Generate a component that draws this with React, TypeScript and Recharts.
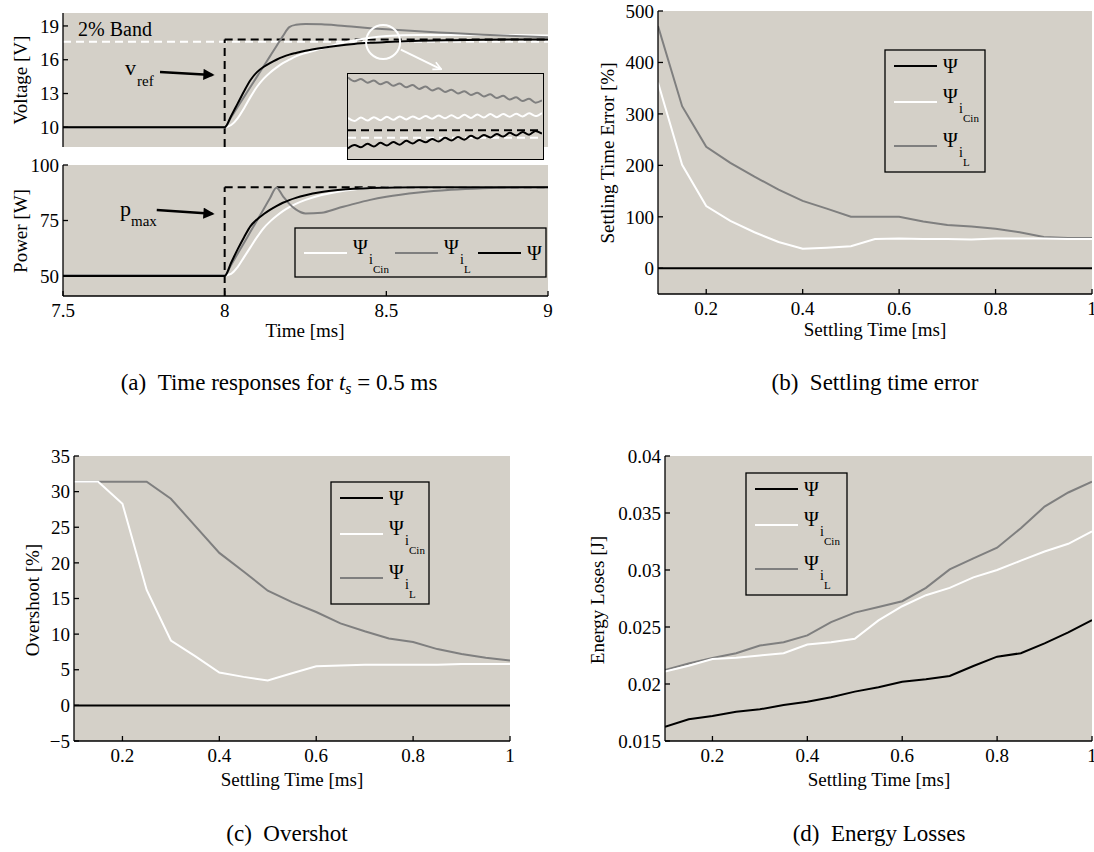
import { CartesianGrid, Line, LineChart, ReferenceDot, ReferenceLine, XAxis, YAxis } from 'recharts';

const FONT = '"Liberation Serif", "Times New Roman", serif';
const BG = '#d4d0c8';
const GRAY = '#7f7f7f';

// time responses (step at 8 ms)
const TIME_A = [7.5, 7.6, 7.7, 7.8, 7.9, 8.0, 8.02, 8.04, 8.06, 8.08, 8.1, 8.12, 8.14, 8.16, 8.18, 8.2, 8.22, 8.25, 8.3, 8.35, 8.4, 8.45, 8.5, 8.6, 8.7, 8.8, 8.9, 9.0];
const V_PSI = [10, 10, 10, 10, 10, 10, 11.0, 12.1, 13.2, 14.2, 14.9, 15.35, 15.7, 16.0, 16.25, 16.45, 16.6, 16.8, 17.05, 17.25, 17.4, 17.5, 17.57, 17.68, 17.74, 17.78, 17.8, 17.8];
const V_CIN = [10, 10, 10, 10, 10, 10, 10.2, 10.8, 11.7, 12.7, 13.6, 14.3, 14.85, 15.3, 15.7, 16.0, 16.3, 16.6, 17.0, 17.4, 17.7, 17.95, 18.1, 18.2, 18.2, 18.2, 18.2, 18.15];
const V_IL = [10, 10, 10, 10, 10, 10, 10.9, 11.8, 12.7, 13.6, 14.5, 15.4, 16.3, 17.2, 18.1, 18.9, 19.1, 19.18, 19.15, 19.05, 18.92, 18.8, 18.7, 18.52, 18.37, 18.22, 18.1, 18.0];
const P_PSI = [50, 50, 50, 50, 50, 50, 56, 62, 67.5, 72.5, 75.5, 77.8, 79.8, 81.5, 83, 84.2, 85.2, 86.4, 87.8, 88.7, 89.3, 89.6, 89.8, 90, 90, 90, 90, 90];
const P_CIN = [50.3, 50.3, 50.3, 50.3, 50.3, 50.3, 51, 54, 58.5, 63, 67.5, 71.5, 74.5, 77, 79.2, 81, 82.5, 84.3, 86.5, 88, 89, 89.6, 89.9, 90, 90, 90, 90, 90];
const P_IL = [50.3, 50.3, 50.3, 50.3, 50.3, 50.3, 55, 60, 65, 70, 75, 80, 85, 89.8, 86, 82.5, 80, 78.2, 78.5, 80.5, 82.5, 84.3, 85.7, 87.6, 88.8, 89.5, 89.9, 90];
const V_REF = 17.8;
const V_BAND = 17.6;
const P_MAX = 90;

// zoomed window around 8.5 ms
const INSET_T = [8.44, 8.444, 8.448, 8.452, 8.456, 8.46, 8.464, 8.468, 8.472, 8.476, 8.48, 8.484, 8.488, 8.492, 8.496, 8.5, 8.504, 8.508, 8.512, 8.516, 8.52, 8.524, 8.528, 8.532, 8.536, 8.54, 8.544, 8.548, 8.552, 8.556, 8.56];
const INSET_IL = [19.18, 19.08, 19.14, 19.04, 19.10, 19.00, 19.06, 18.96, 19.02, 18.92, 18.98, 18.88, 18.94, 18.84, 18.90, 18.80, 18.86, 18.76, 18.82, 18.72, 18.78, 18.68, 18.74, 18.64, 18.70, 18.60, 18.66, 18.56, 18.62, 18.52, 18.58];
const INSET_CIN = [18.12, 18.04, 18.13, 18.05, 18.14, 18.06, 18.15, 18.07, 18.16, 18.08, 18.16, 18.09, 18.17, 18.10, 18.18, 18.11, 18.19, 18.11, 18.20, 18.12, 18.21, 18.13, 18.22, 18.14, 18.22, 18.15, 18.23, 18.16, 18.24, 18.17, 18.25];
const INSET_PSI = [17.32, 17.41, 17.35, 17.44, 17.37, 17.47, 17.40, 17.49, 17.42, 17.52, 17.45, 17.54, 17.48, 17.57, 17.50, 17.60, 17.53, 17.62, 17.55, 17.65, 17.58, 17.67, 17.61, 17.70, 17.63, 17.73, 17.66, 17.75, 17.68, 17.78, 17.71];

// sweeps over settling time
const ST = [0.1, 0.15, 0.2, 0.25, 0.3, 0.35, 0.4, 0.45, 0.5, 0.55, 0.6, 0.65, 0.7, 0.75, 0.8, 0.85, 0.9, 0.95, 1.0];
const ERR_PSI = [0, 0, 0, 0, 0, 0, 0, 0, 0, 0, 0, 0, 0, 0, 0, 0, 0, 0, 0];
const ERR_CIN = [361, 201, 121, 92, 70, 51, 38, 40, 43, 57, 58, 57, 57, 56, 58, 58, 58, 57, 57];
const ERR_IL = [471, 315, 236, 205, 178, 153, 131, 116, 100, 100, 100, 91, 84, 81, 77, 70, 61, 59, 59];
const OVER_PSI = [0, 0, 0, 0, 0, 0, 0, 0, 0, 0, 0, 0, 0, 0, 0, 0, 0, 0, 0];
const OVER_CIN = [31.4, 31.4, 28.3, 16.2, 9.1, 6.9, 4.6, 4.0, 3.5, 4.5, 5.5, 5.6, 5.7, 5.7, 5.7, 5.7, 5.8, 5.8, 5.8];
const OVER_IL = [31.4, 31.4, 31.4, 31.4, 29.0, 25.2, 21.4, 18.8, 16.1, 14.5, 13.1, 11.5, 10.4, 9.4, 8.9, 7.9, 7.2, 6.7, 6.3];
const EN_PSI = [0.01625, 0.0169, 0.0172, 0.01757, 0.01778, 0.01816, 0.01845, 0.01883, 0.01933, 0.01971, 0.0202, 0.02041, 0.0207, 0.02158, 0.0224, 0.0227, 0.02357, 0.02453, 0.02561];
const EN_CIN = [0.0211, 0.0216, 0.0222, 0.0223, 0.0225, 0.0227, 0.02347, 0.02367, 0.02397, 0.02558, 0.02682, 0.02779, 0.02843, 0.02935, 0.03, 0.03082, 0.03162, 0.0323, 0.03338];
const EN_IL = [0.02123, 0.0218, 0.02229, 0.0227, 0.02338, 0.02367, 0.02426, 0.02543, 0.02626, 0.02676, 0.02726, 0.02843, 0.03005, 0.03102, 0.03196, 0.03367, 0.03556, 0.0368, 0.03775];

const T_TICKS = [7.5, 8, 8.5, 9];
const ST_TICKS = [0.2, 0.4, 0.6, 0.8, 1];

const rowsA = TIME_A.map((t, i) => ({
  t, vPsi: V_PSI[i], vCin: V_CIN[i], vIl: V_IL[i], pPsi: P_PSI[i], pCin: P_CIN[i], pIl: P_IL[i],
}));
const rowsInset = INSET_T.map((t, i) => ({ t, psi: INSET_PSI[i], cin: INSET_CIN[i], il: INSET_IL[i] }));
const rowsST = ST.map((t, i) => ({
  t,
  errPsi: ERR_PSI[i], errCin: ERR_CIN[i], errIl: ERR_IL[i],
  ovPsi: OVER_PSI[i], ovCin: OVER_CIN[i], ovIl: OVER_IL[i],
  enPsi: EN_PSI[i], enCin: EN_CIN[i], enIl: EN_IL[i],
}));

const tickText = { fill: '#000', fontSize: 19, fontFamily: FONT };
const frameStroke = { stroke: '#000', strokeWidth: 1.3 };
const blank = () => '';
const fmt = (v: number) => (v < 0 ? '\u2212' + Math.abs(v) : String(v));

// boxed matlab-style frame: ticks pointing inward on all four sides
function frame(xDomain: number[], xTicks: number[], yDomain: number[], yTicks: number[], showX: boolean) {
  return [
    <XAxis key="xb" type="number" dataKey="t" domain={xDomain} ticks={xTicks} interval={0} allowDataOverflow
      height={showX ? 40 : 0} axisLine={frameStroke} tickLine={frameStroke} tickSize={-5} tickMargin={13}
      tick={tickText} tickFormatter={showX ? fmt : blank} />,
    <XAxis key="xt" xAxisId="top" orientation="top" type="number" dataKey="t" domain={xDomain} ticks={xTicks}
      interval={0} allowDataOverflow height={0} axisLine={frameStroke} tickLine={frameStroke} tickSize={-5}
      tick={tickText} tickFormatter={blank} />,
    <YAxis key="yl" type="number" domain={yDomain} ticks={yTicks} interval={0} allowDataOverflow width={60}
      axisLine={frameStroke} tickLine={frameStroke} tickSize={-5} tickMargin={9} tick={tickText} tickFormatter={fmt} />,
    <YAxis key="yr" yAxisId="right" orientation="right" type="number" domain={yDomain} ticks={yTicks} interval={0}
      allowDataOverflow width={0} axisLine={frameStroke} tickLine={frameStroke} tickSize={-5} tick={tickText}
      tickFormatter={blank} />,
  ];
}

function trace(key: string, color: string) {
  return (
    <Line key={key} type="linear" dataKey={key} stroke={color} strokeWidth={2} dot={false}
      activeDot={false} isAnimationActive={false} />
  );
}

function smooth(key: string, color: string) {
  return (
    <Line key={key} type="monotone" dataKey={key} stroke={color} strokeWidth={2} dot={false}
      activeDot={false} isAnimationActive={false} />
  );
}

const dash = { strokeWidth: 2, strokeDasharray: '8 5' };

function PsiLabel({ x, y, sub }: { x: number; y: number; sub?: string }) {
  if (!sub) return <text x={x} y={y + 7} fontSize={20}>Ψ</text>;
  return (
    <g>
      <text x={x} y={y + 1} fontSize={20}>Ψ</text>
      <text x={x + 16} y={y + 11} fontSize={14}>i</text>
      <text x={x + 20} y={y + 20} fontSize={11}>{sub}</text>
    </g>
  );
}

function LegendRow({ x, y, color, sub }: { x: number; y: number; color: string; sub?: string }) {
  return (
    <g>
      <line x1={x} x2={x + 43} y1={y} y2={y} stroke={color} strokeWidth={2} />
      <PsiLabel x={x + 49} y={y} sub={sub} />
    </g>
  );
}

function VerticalLegend({ x, y, w }: { x: number; y: number; w: number }) {
  return (
    <g>
      <rect x={x} y={y} width={w} height={122} fill={BG} stroke="#000" strokeWidth={1.3} />
      <LegendRow x={x + 9} y={y + 16} color="#000" />
      <LegendRow x={x + 9} y={y + 52} color="#fff" sub="Cin" />
      <LegendRow x={x + 9} y={y + 96} color={GRAY} sub="L" />
    </g>
  );
}

function YTitle({ x, y, text }: { x: number; y: number; text: string }) {
  return (
    <text transform={`translate(${x},${y}) rotate(-90)`} textAnchor="middle" dominantBaseline="central" fontSize={19}>
      {text}
    </text>
  );
}

const abs = (left: number, top: number) => ({ position: 'absolute' as const, left, top });

export default function App() {
  return (
    <div style={{ position: 'absolute', left: 0, top: 0, width: 1094, height: 852, overflow: 'hidden', background: '#fff', fontFamily: FONT }}>
      <style>{`svg text { font-family: "Liberation Serif", "Times New Roman", serif; }`}</style>

      {/* (a) voltage */}
      <div style={abs(0, 0)}>
        <LineChart width={560} height={160} data={rowsA} margin={{ top: 13, right: 12, bottom: 13, left: 3 }}>
          <defs>
            <marker id="headBlack" viewBox="0 0 10 10" refX="8" refY="5" markerWidth="5" markerHeight="4.5" orient="auto">
              <path d="M0,0 L10,5 L0,10 z" fill="#000" />
            </marker>
            <marker id="headWhite" viewBox="0 0 10 10" refX="9" refY="5" markerWidth="5" markerHeight="5" orient="auto">
              <path d="M1,1 L9,5 L1,9" fill="none" stroke="#fff" strokeWidth={1.6} />
            </marker>
          </defs>
          <CartesianGrid fill={BG} horizontal={false} vertical={false} />
          {frame([7.5, 9], T_TICKS, [8.25, 20.15], [10, 13, 16, 19], false)}
          <ReferenceLine y={V_BAND} stroke="#fff" {...dash} />
          <ReferenceLine segment={[{ x: 8, y: 8.25 }, { x: 8, y: V_REF }]} stroke="#000" {...dash} />
          <ReferenceLine segment={[{ x: 8, y: V_REF }, { x: 9, y: V_REF }]} stroke="#000" {...dash} />
          {smooth('vCin', '#fff')}
          {smooth('vIl', GRAY)}
          {smooth('vPsi', '#000')}
          <ReferenceDot x={8.49} y={17.58} r={17} fill="none" stroke="#fff" strokeWidth={2} />
          <ReferenceLine segment={[{ x: 8.545, y: 16.9 }, { x: 8.67, y: 15.15 }]} stroke="#fff" strokeWidth={2} markerEnd="url(#headWhite)" />
          <ReferenceLine segment={[{ x: 7.8, y: 14.9 }, { x: 7.962, y: 14.65 }]} stroke="#000" strokeWidth={2.5} markerEnd="url(#headBlack)" />
        </LineChart>
      </div>

      {/* (a) power */}
      <div style={abs(0, 150)}>
        <LineChart width={560} height={200} data={rowsA} margin={{ top: 15, right: 12, bottom: 14, left: 3 }}>
          <CartesianGrid fill={BG} horizontal={false} vertical={false} />
          {frame([7.5, 9], T_TICKS, [41, 100], [50, 75, 100], true)}
          <ReferenceLine segment={[{ x: 8, y: 41 }, { x: 8, y: P_MAX }]} stroke="#000" {...dash} />
          <ReferenceLine segment={[{ x: 8, y: P_MAX }, { x: 9, y: P_MAX }]} stroke="#000" {...dash} />
          {smooth('pCin', '#fff')}
          {smooth('pIl', GRAY)}
          {smooth('pPsi', '#000')}
          <ReferenceLine segment={[{ x: 7.79, y: 79.7 }, { x: 7.962, y: 78 }]} stroke="#000" strokeWidth={2.5} markerEnd="url(#headBlack)" />
        </LineChart>
      </div>

      {/* (a) inset */}
      <div style={{ ...abs(347, 73), width: 197, height: 87, boxSizing: 'border-box', border: '1.5px solid #000', background: BG }}>
        <LineChart width={194} height={84} data={rowsInset} margin={{ top: 0, right: 0, bottom: 0, left: 0 }}>
          <XAxis type="number" dataKey="t" domain={[8.44, 8.56]} hide allowDataOverflow />
          <YAxis type="number" domain={[17.07, 19.27]} hide allowDataOverflow />
          <ReferenceLine y={V_REF} stroke="#000" {...dash} />
          <ReferenceLine y={V_BAND} stroke="#fff" {...dash} />
          {smooth('il', GRAY)}
          {smooth('cin', '#fff')}
          {smooth('psi', '#000')}
        </LineChart>
      </div>

      {/* (b) settling time error */}
      <div style={abs(560, 0)}>
        <LineChart width={534} height={340} data={rowsST} margin={{ top: 11, right: 2, bottom: 6, left: 38 }}>
          <CartesianGrid fill={BG} horizontal={false} vertical={false} />
          {frame([0.1, 1], ST_TICKS, [-50, 500], [0, 100, 200, 300, 400, 500], true)}
          {trace('errIl', GRAY)}
          {trace('errCin', '#fff')}
          {trace('errPsi', '#000')}
        </LineChart>
      </div>

      {/* (c) overshoot */}
      <div style={abs(0, 440)}>
        <LineChart width={560} height={350} data={rowsST} margin={{ top: 16, right: 50, bottom: 9, left: 14 }}>
          <CartesianGrid fill={BG} horizontal={false} vertical={false} />
          {frame([0.1, 1], ST_TICKS, [-5, 35], [-5, 0, 5, 10, 15, 20, 25, 30, 35], true)}
          {trace('ovIl', GRAY)}
          {trace('ovCin', '#fff')}
          {trace('ovPsi', '#000')}
        </LineChart>
      </div>

      {/* (d) energy losses */}
      <div style={abs(560, 440)}>
        <LineChart width={534} height={350} data={rowsST} margin={{ top: 16, right: 2, bottom: 9, left: 45 }}>
          <CartesianGrid fill={BG} horizontal={false} vertical={false} />
          {frame([0.1, 1], ST_TICKS, [0.015, 0.04], [0.015, 0.02, 0.025, 0.03, 0.035, 0.04], true)}
          {trace('enIl', GRAY)}
          {trace('enCin', '#fff')}
          {trace('enPsi', '#000')}
        </LineChart>
      </div>

      {/* titles, annotations, legends */}
      <svg width={1094} height={852} style={{ position: 'absolute', left: 0, top: 0, pointerEvents: 'none' }} fontFamily={FONT} fill="#000">
        <YTitle x={20} y={80} text="Voltage [V]" />
        <YTitle x={20} y={231} text="Power [W]" />
        <text x={305} y={337} textAnchor="middle" fontSize={19}>Time [ms]</text>
        <text x={78} y={36} fontSize={20}>2% Band</text>
        <text x={125} y={75} fontSize={22}>v</text>
        <text x={137} y={86} fontSize={15}>ref</text>
        <text x={120} y={216} fontSize={22}>p</text>
        <text x={131} y={226} fontSize={15}>max</text>

        <rect x={295} y={228} width={251} height={49} fill={BG} stroke="#000" strokeWidth={1.3} />
        <LegendRow x={304} y={253} color="#fff" sub="Cin" />
        <LegendRow x={395} y={253} color={GRAY} sub="L" />
        <LegendRow x={478} y={253} color="#000" />

        <YTitle x={607} y={153} text="Settling Time Error [%]" />
        <text x={875} y={336} textAnchor="middle" fontSize={19}>Settling Time [ms]</text>
        <VerticalLegend x={885} y={50} w={100} />

        <YTitle x={32} y={600} text="Overshoot [%]" />
        <text x={292} y={786} textAnchor="middle" fontSize={19}>Settling Time [ms]</text>
        <VerticalLegend x={331} y={482} w={98} />

        <YTitle x={597} y={600} text="Energy Loses [J]" />
        <text x={879} y={786} textAnchor="middle" fontSize={19}>Settling Time [ms]</text>
        <VerticalLegend x={746} y={473} w={101} />

        <text x={279} y={390} textAnchor="middle" fontSize={23}>
          (a)&#160;&#160;Time responses for <tspan fontStyle="italic">t</tspan>
          <tspan fontSize={16} fontStyle="italic" dy={4}>s</tspan>
          <tspan dy={-4}>&#160;= 0.5 ms</tspan>
        </text>
        <text x={875} y={390} textAnchor="middle" fontSize={23}>(b)&#160;&#160;Settling time error</text>
        <text x={287} y={841} textAnchor="middle" fontSize={23}>(c)&#160;&#160;Overshot</text>
        <text x={879} y={841} textAnchor="middle" fontSize={23}>(d)&#160;&#160;Energy Losses</text>
      </svg>
    </div>
  );
}
